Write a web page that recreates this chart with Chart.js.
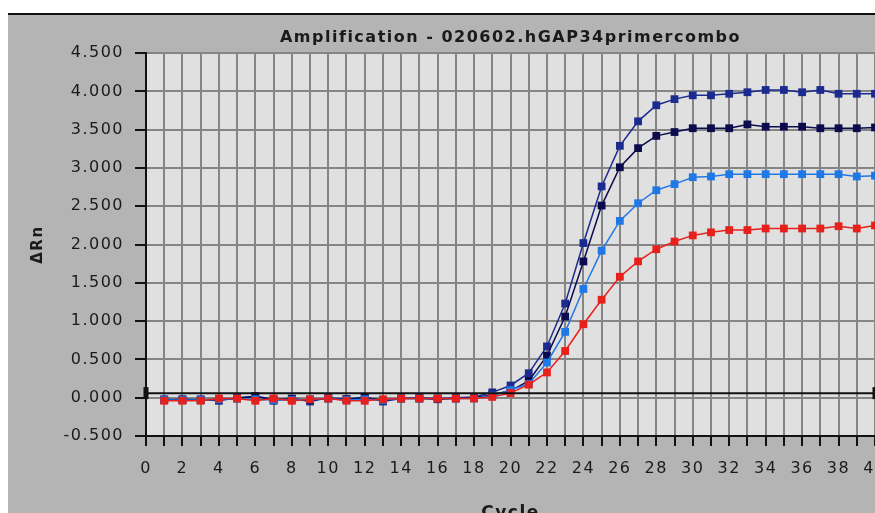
<!DOCTYPE html>
<html>
<head>
<meta charset="utf-8">
<script src="https://cdn.jsdelivr.net/npm/chart.js@4.4.1/dist/chart.umd.min.js"></script>
<style>
  html, body { margin: 0; padding: 0; background: #b4b4b4; }
  #wrap { width: 875px; height: 513px; }
</style>
</head>
<body>
<div id="wrap"><canvas id="amp"></canvas></div>
<script>
const cycles = Array.from({ length: 40 }, (_, i) => i + 1);

const navy = [
  -0.02, -0.03, -0.02, -0.04, 0.00, 0.02, -0.04, -0.01, -0.05, 0.00,
  -0.02, 0.01, -0.05, -0.01, 0.00, -0.01, 0.00, 0.01, 0.07, 0.16,
  0.32, 0.67, 1.23, 2.02, 2.76, 3.29, 3.61, 3.82, 3.90, 3.95,
  3.95, 3.97, 3.99, 4.02, 4.02, 3.99, 4.02, 3.97, 3.97, 3.97
];
const darkNavy = [
  -0.03, -0.02, -0.03, -0.02, -0.01, 0.02, -0.02, -0.02, -0.03, -0.01,
  -0.02, 0.00, -0.03, -0.01, -0.01, -0.02, -0.01, 0.00, 0.04, 0.09,
  0.22, 0.55, 1.06, 1.78, 2.51, 3.01, 3.26, 3.42, 3.47, 3.52,
  3.52, 3.52, 3.57, 3.54, 3.54, 3.54, 3.52, 3.52, 3.52, 3.53
];
const lightBlue = [
  -0.03, -0.03, -0.03, -0.02, -0.01, -0.02, -0.03, -0.03, -0.02, -0.01,
  -0.03, -0.02, -0.03, -0.01, -0.01, -0.01, -0.01, -0.01, 0.03, 0.10,
  0.18, 0.46, 0.86, 1.42, 1.92, 2.31, 2.54, 2.71, 2.79, 2.88,
  2.89, 2.92, 2.92, 2.92, 2.92, 2.92, 2.92, 2.92, 2.89, 2.90
];
const red = [
  -0.04, -0.04, -0.04, -0.01, -0.01, -0.04, -0.01, -0.04, -0.02, -0.01,
  -0.04, -0.04, -0.02, -0.01, -0.01, -0.01, -0.01, -0.01, 0.01, 0.06,
  0.17, 0.33, 0.61, 0.96, 1.28, 1.58, 1.78, 1.94, 2.04, 2.12,
  2.16, 2.19, 2.19, 2.21, 2.21, 2.21, 2.21, 2.24, 2.21, 2.25
];
const threshold = 0.06;
const thresholdSpan = [0, 40];

const COLORS = {
  navy: '#1c2b8f',
  darkNavy: '#0b0b4d',
  lightBlue: '#1f78e6',
  red: '#e8201c',
  ink: '#1a1a1a',
  grid: '#858585',
  plot: '#e0e0e0',
  outer: '#b4b4b4'
};

// old-mac look: grey window, white strip + black rule at the top, wide letter spacing
const backdrop = {
  id: 'ampBackdrop',
  beforeDraw(chart) {
    const { ctx, chartArea, width, height } = chart;
    ctx.save();
    ctx.fillStyle = COLORS.outer;
    ctx.fillRect(0, 0, width, height);
    ctx.fillStyle = '#ffffff';
    ctx.fillRect(0, 0, width, 13);
    ctx.fillRect(0, 0, 8, height);
    ctx.fillStyle = '#111111';
    ctx.fillRect(8, 13, width - 8, 2);
    ctx.fillStyle = COLORS.plot;
    ctx.fillRect(chartArea.left, chartArea.top, chartArea.right - chartArea.left, chartArea.bottom - chartArea.top);
    ctx.restore();
    ctx.letterSpacing = '1.5px';
  }
};

function series(label, values, color) {
  return {
    label,
    data: cycles.map((c, i) => ({ x: c, y: values[i] })),
    borderColor: color,
    backgroundColor: color,
    borderWidth: 1.5,
    pointStyle: 'rect',
    pointRadius: 5.5,
    pointBorderWidth: 0,
    tension: 0,
    clip: false
  };
}

new Chart(document.getElementById('amp'), {
  type: 'line',
  data: {
    datasets: [
      {
        label: 'Threshold',
        data: thresholdSpan.map((x) => ({ x, y: threshold })),
        borderColor: '#111111',
        backgroundColor: '#111111',
        borderWidth: 2,
        pointStyle: 'line',
        rotation: 90,
        pointRadius: 6,
        pointBorderWidth: 5,
        clip: false
      },
      series('Red', red, COLORS.red),
      series('Light blue', lightBlue, COLORS.lightBlue),
      series('Dark navy', darkNavy, COLORS.darkNavy),
      series('Navy', navy, COLORS.navy)
    ]
  },
  options: {
    responsive: true,
    maintainAspectRatio: false,
    animation: false,
    layout: { padding: 0, autoPadding: false },
    plugins: {
      legend: { display: false },
      tooltip: { enabled: false },
      title: {
        display: true,
        fullSize: false,
        text: 'Amplification - 020602.hGAP34primercombo',
        color: COLORS.ink,
        font: { family: 'DejaVu Sans', weight: 'bold', size: 16 },
        padding: { top: 28, bottom: 6 }
      }
    },
    scales: {
      x: {
        type: 'linear',
        min: 0,
        max: 40,
        afterFit(scale) {
          scale.height = 77;
          scale.paddingLeft = 0;
          scale.paddingRight = 0;
        },
        ticks: {
          stepSize: 1,
          autoSkip: false,
          maxRotation: 0,
          padding: 13,
          color: COLORS.ink,
          font: { family: 'DejaVu Sans', size: 16 },
          callback: (v) => (v % 2 === 0 ? String(v) : '')
        },
        grid: { color: COLORS.grid, lineWidth: 2, tickLength: 10, tickColor: '#111111', tickWidth: 2 },
        border: { color: '#111111', width: 2 },
        title: {
          display: true,
          text: 'Cycle',
          color: COLORS.ink,
          font: { family: 'DejaVu Sans', weight: 'bold', size: 17, lineHeight: 1.2 },
          padding: { top: 0, bottom: -11 }
        }
      },
      y: {
        min: -0.5,
        max: 4.5,
        afterFit(scale) {
          scale.width = 146;
          scale.paddingTop = 0;
          scale.paddingBottom = 0;
        },
        ticks: {
          stepSize: 0.5,
          padding: 11,
          color: COLORS.ink,
          font: { family: 'DejaVu Sans', size: 16 },
          callback: (v) => v.toFixed(3)
        },
        grid: { color: COLORS.grid, lineWidth: 2, tickLength: 11, tickColor: '#111111', tickWidth: 2 },
        border: { color: '#111111', width: 2 },
        title: {
          display: true,
          text: 'ΔRn',
          color: COLORS.ink,
          font: { family: 'DejaVu Sans', weight: 'bold', size: 15, lineHeight: 1.2 },
          padding: { top: 29, bottom: 0 }
        }
      }
    }
  },
  plugins: [backdrop]
});
</script>
</body>
</html>
